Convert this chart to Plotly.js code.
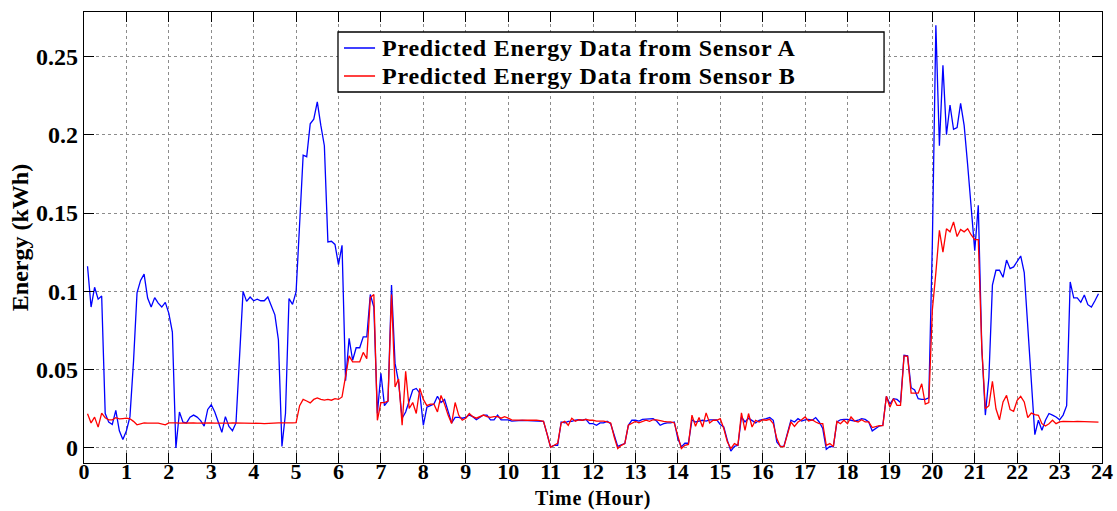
<!DOCTYPE html>
<html>
<head>
<meta charset="utf-8">
<script src="https://cdn.plot.ly/plotly-3.0.1.min.js"></script>
<style>
  html, body { margin: 0; padding: 0; background: #fff; }
  #chart { width: 1117px; height: 511px; }
  .annotation-text { letter-spacing: 0.75px; }
</style>
</head>
<body>
<div id="chart"></div>
<script>
// Sampling step of the recordings: 5 minutes (12 samples per hour), first sample at 0:05
const sampleMinutes = 5;

// Predicted energy (kWh), Sensor A - one row per hour
const sensorA = [
  0.116, 0.090, 0.1026, 0.095, 0.097, 0.022, 0.0165, 0.015, 0.024, 0.011, 0.0054, 0.011,
  0.020, 0.055, 0.099, 0.107, 0.111, 0.0957, 0.090, 0.096, 0.0925, 0.090, 0.093, 0.086,
  0.074, 0.000, 0.023, 0.0165, 0.016, 0.0197, 0.021, 0.0197, 0.0175, 0.014, 0.0246, 0.0276,
  0.023, 0.0165, 0.010, 0.020, 0.0137, 0.011, 0.016, 0.058, 0.100, 0.0936, 0.0964, 0.094,
  0.095, 0.094, 0.094, 0.0964, 0.091, 0.085, 0.069, 0.001, 0.022, 0.0954, 0.0917, 0.0996,
  0.143, 0.187, 0.186, 0.207, 0.210, 0.221, 0.206, 0.193, 0.1316, 0.132, 0.130, 0.117,
  0.1294, 0.043, 0.070, 0.056, 0.064, 0.064, 0.071, 0.071, 0.098, 0.090, 0.022, 0.0477,
  0.027, 0.030, 0.104, 0.054, 0.042, 0.019, 0.023, 0.0305, 0.037, 0.038, 0.035, 0.0145,
  0.026, 0.027, 0.028, 0.033, 0.029, 0.031, 0.023, 0.016, 0.0195, 0.0195, 0.019, 0.0195,
  0.021, 0.020, 0.018, 0.0195, 0.021, 0.021, 0.018, 0.018, 0.021, 0.018, 0.018, 0.018,
  0.0172, 0.0175, 0.0175, 0.0176, 0.0175, 0.0177, 0.0175, 0.0176, 0.0175, 0.017, 0.009, 0.0005,
  0.0017, 0.0017, 0.0166, 0.016, 0.017, 0.017, 0.0177, 0.018, 0.0177, 0.0183, 0.0155, 0.0155,
  0.0145, 0.016, 0.016, 0.017, 0.0155, 0.008, 0.001, 0.002, 0.0028, 0.0145, 0.0177, 0.0177,
  0.0172, 0.0183, 0.0183, 0.0187, 0.0187, 0.0172, 0.0145, 0.0155, 0.016, 0.016, 0.0166, 0.006,
  0.0007, 0.003, 0.003, 0.018, 0.0166, 0.0172, 0.0177, 0.0172, 0.018, 0.018, 0.018, 0.015,
  0.0134, 0.005, -0.002, 0.001, 0.0017, 0.0198, 0.0166, 0.019, 0.0177, 0.016, 0.0177, 0.018,
  0.0187, 0.0194, 0.0177, 0.0038, 0.001, 0.001, 0.010, 0.0177, 0.0166, 0.0187, 0.0172, 0.018,
  0.0182, 0.0177, 0.0194, 0.0166, 0.0124, -0.0008, 0.001, 0.0007, 0.0166, 0.018, 0.0182, 0.0182,
  0.0177, 0.0172, 0.0177, 0.0187, 0.0182, 0.0166, 0.0109, 0.0124, 0.014, 0.0145, 0.033, 0.028,
  0.0315, 0.031, 0.029, 0.0592, 0.0588, 0.0385, 0.037, 0.0315, 0.031, 0.031, 0.032, 0.130,
  0.270, 0.193, 0.2443, 0.200, 0.219, 0.2035, 0.2046, 0.220, 0.206, 0.1805, 0.153, 0.126,
  0.155, 0.0635, 0.021, 0.045, 0.104, 0.1135, 0.1135, 0.109, 0.120, 0.1145, 0.1156, 0.119,
  0.1226, 0.112, 0.076, 0.040, 0.0085, 0.0177, 0.0113, 0.0177, 0.022, 0.021, 0.0198, 0.018,
  0.021, 0.027, 0.106, 0.0958, 0.0958, 0.093, 0.0977, 0.0915, 0.090, 0.094, 0.0985
];

// Predicted energy (kWh), Sensor B - one row per hour
const sensorB = [
  0.0218, 0.016, 0.0197, 0.0133, 0.0223, 0.0193, 0.018, 0.018, 0.0193, 0.0186, 0.0188, 0.019,
  0.0186, 0.017, 0.0148, 0.0156, 0.016, 0.0158, 0.016, 0.0158, 0.0158, 0.0155, 0.0148, 0.016,
  0.0158, 0.016, 0.0159, 0.016, 0.0158, 0.016, 0.016, 0.0159, 0.016, 0.0158, 0.016, 0.016,
  0.0159, 0.0158, 0.016, 0.016, 0.0159, 0.016, 0.016, 0.0158, 0.016, 0.0159, 0.016, 0.016,
  0.0158, 0.0157, 0.0155, 0.0157, 0.016, 0.0159, 0.016, 0.016, 0.0158, 0.016, 0.016, 0.0162,
  0.027, 0.031, 0.030, 0.0288, 0.031, 0.032, 0.031, 0.0305, 0.031, 0.0305, 0.0315, 0.031,
  0.0326, 0.0453, 0.0588, 0.055, 0.055, 0.055, 0.061, 0.057, 0.096, 0.098, 0.0177, 0.029,
  0.029, 0.030, 0.098, 0.039, 0.044, 0.0145, 0.049, 0.0252, 0.029, 0.022, 0.038, 0.031,
  0.027, 0.028, 0.028, 0.023, 0.0335, 0.028, 0.021, 0.0156, 0.029, 0.021, 0.0177, 0.019,
  0.022, 0.020, 0.019, 0.020, 0.021, 0.020, 0.0195, 0.020, 0.020, 0.019, 0.020, 0.019,
  0.018, 0.0178, 0.018, 0.0178, 0.0177, 0.0178, 0.018, 0.0178, 0.0175, 0.017, 0.009, 0.0005,
  0.0017, 0.003, 0.016, 0.017, 0.0145, 0.019, 0.017, 0.018, 0.0177, 0.0183, 0.0177, 0.0177,
  0.0172, 0.0172, 0.0172, 0.0166, 0.016, 0.007, -0.0004, 0.0017, 0.0028, 0.0145, 0.016, 0.017,
  0.016, 0.017, 0.0177, 0.017, 0.018, 0.018, 0.0177, 0.017, 0.0166, 0.0166, 0.016, 0.007,
  -0.0004, 0.0017, 0.0023, 0.021, 0.0138, 0.0194, 0.0134, 0.0224, 0.016, 0.0177, 0.0177, 0.0187,
  0.0124, 0.0039, -0.0004, 0.0028, 0.0017, 0.0224, 0.0113, 0.022, 0.0134, 0.0177, 0.0166, 0.018,
  0.0177, 0.0183, 0.0155, 0.006, 0.001, 0.0007, 0.008, 0.0166, 0.0138, 0.0166, 0.018, 0.0198,
  0.0172, 0.018, 0.0166, 0.0155, 0.0155, 0.0017, 0.0028, 0.001, 0.017, 0.0155, 0.0177, 0.0155,
  0.0198, 0.0172, 0.0166, 0.018, 0.0166, 0.0166, 0.013, 0.0138, 0.0143, 0.0143, 0.033, 0.026,
  0.0315, 0.0272, 0.0272, 0.0588, 0.0585, 0.035, 0.035, 0.035, 0.041, 0.028, 0.029, 0.088,
  0.112, 0.139, 0.125, 0.140, 0.138, 0.1443, 0.135, 0.1396, 0.138, 0.140, 0.136, 0.133,
  0.133, 0.0635, 0.025, 0.027, 0.0426, 0.025, 0.018, 0.0294, 0.0336, 0.0245, 0.0234, 0.0304,
  0.033, 0.0294, 0.0194, 0.0223, 0.0213, 0.0209, 0.0155, 0.014, 0.0155, 0.0177, 0.0155, 0.0166,
  0.017, 0.0168, 0.0167, 0.0168, 0.017, 0.0169, 0.0167, 0.0168, 0.0165, 0.0163, 0.0165
];

const seriesNames = ['Predicted Energy Data from Sensor A', 'Predicted Energy Data from Sensor B'];
const seriesColors = ['#0000ff', '#ff0000'];
const xTickValues = [0,1,2,3,4,5,6,7,8,9,10,11,12,13,14,15,16,17,18,19,20,21,22,23,24];
const yTickValues = [0, 0.05, 0.1, 0.15, 0.2, 0.25];
const xTitle = 'Time (Hour)';
const yTitle = 'Energy (kWh)';

// time axis (hours) of each sample
const timeHours = sensorA.map((_, i) => (i + 1) * sampleMinutes / 60);

const FONT = 'Liberation Serif, Times New Roman, serif';
const boldFont = (size) => ({ family: FONT, size: size, color: '#000', weight: 'bold' });

const traces = [
  { x: timeHours, y: sensorA, type: 'scatter', mode: 'lines', name: seriesNames[0],
    line: { color: seriesColors[0], width: 1.3 } },
  { x: timeHours, y: sensorB, type: 'scatter', mode: 'lines', name: seriesNames[1],
    line: { color: seriesColors[1], width: 1.3 } }
];

const axisCommon = {
  showline: true, linecolor: '#000', linewidth: 1.3, mirror: 'ticks',
  ticks: 'inside', ticklen: 10, tickcolor: '#000', tickwidth: 1,
  showgrid: true, gridcolor: '#8c8c8c', gridwidth: 1, griddash: 'dot',
  zeroline: false,
  tickfont: boldFont(24)
};

// Boxed legend (MATLAB style), placed in paper coordinates of the plot area
const legendBox = { x0: 0.2495, x1: 0.7859, y0: 0.8226, y1: 0.9557 };
const legendRowsY = [0.9202, 0.8581];
const legendLineX = [0.2554, 0.2859];
const legendTextX = 0.2908;

const shapes = [
  { type: 'rect', xref: 'paper', yref: 'paper', x0: legendBox.x0, x1: legendBox.x1,
    y0: legendBox.y0, y1: legendBox.y1, fillcolor: '#fff', line: { color: '#000', width: 1.3 }, layer: 'above' }
];
const annotations = [];
seriesNames.forEach((name, i) => {
  shapes.push({ type: 'line', xref: 'paper', yref: 'paper', x0: legendLineX[0], x1: legendLineX[1],
    y0: legendRowsY[i], y1: legendRowsY[i], line: { color: seriesColors[i], width: 1.3 }, layer: 'above' });
  annotations.push({ xref: 'paper', yref: 'paper', x: legendTextX, y: legendRowsY[i],
    xanchor: 'left', yanchor: 'middle', showarrow: false, text: name, font: boldFont(24) });
});
// x-axis title, sitting just under the tick labels at the bottom edge
annotations.push({ xref: 'paper', yref: 'paper', x: 0.5, y: -0.1064, xanchor: 'center', yanchor: 'bottom',
  showarrow: false, text: xTitle, font: boldFont(20), borderpad: 0 });

const layout = {
  width: 1117, height: 511,
  margin: { l: 84, r: 15, t: 12, b: 48 },
  paper_bgcolor: '#fff', plot_bgcolor: '#fff',
  font: { family: FONT, color: '#000' },
  showlegend: false,
  xaxis: Object.assign({}, axisCommon, {
    range: [0, 24], tickmode: 'array', tickvals: xTickValues, ticklabelstandoff: -12,
    tickfont: boldFont(22)
  }),
  yaxis: Object.assign({}, axisCommon, {
    range: [-0.0096, 0.2784], tickmode: 'array', tickvals: yTickValues,
    title: { text: yTitle, font: boldFont(24), standoff: 0 }
  }),
  shapes: shapes,
  annotations: annotations
};

Plotly.newPlot('chart', traces, layout, { staticPlot: true, displayModeBar: false });
</script>
</body>
</html>
